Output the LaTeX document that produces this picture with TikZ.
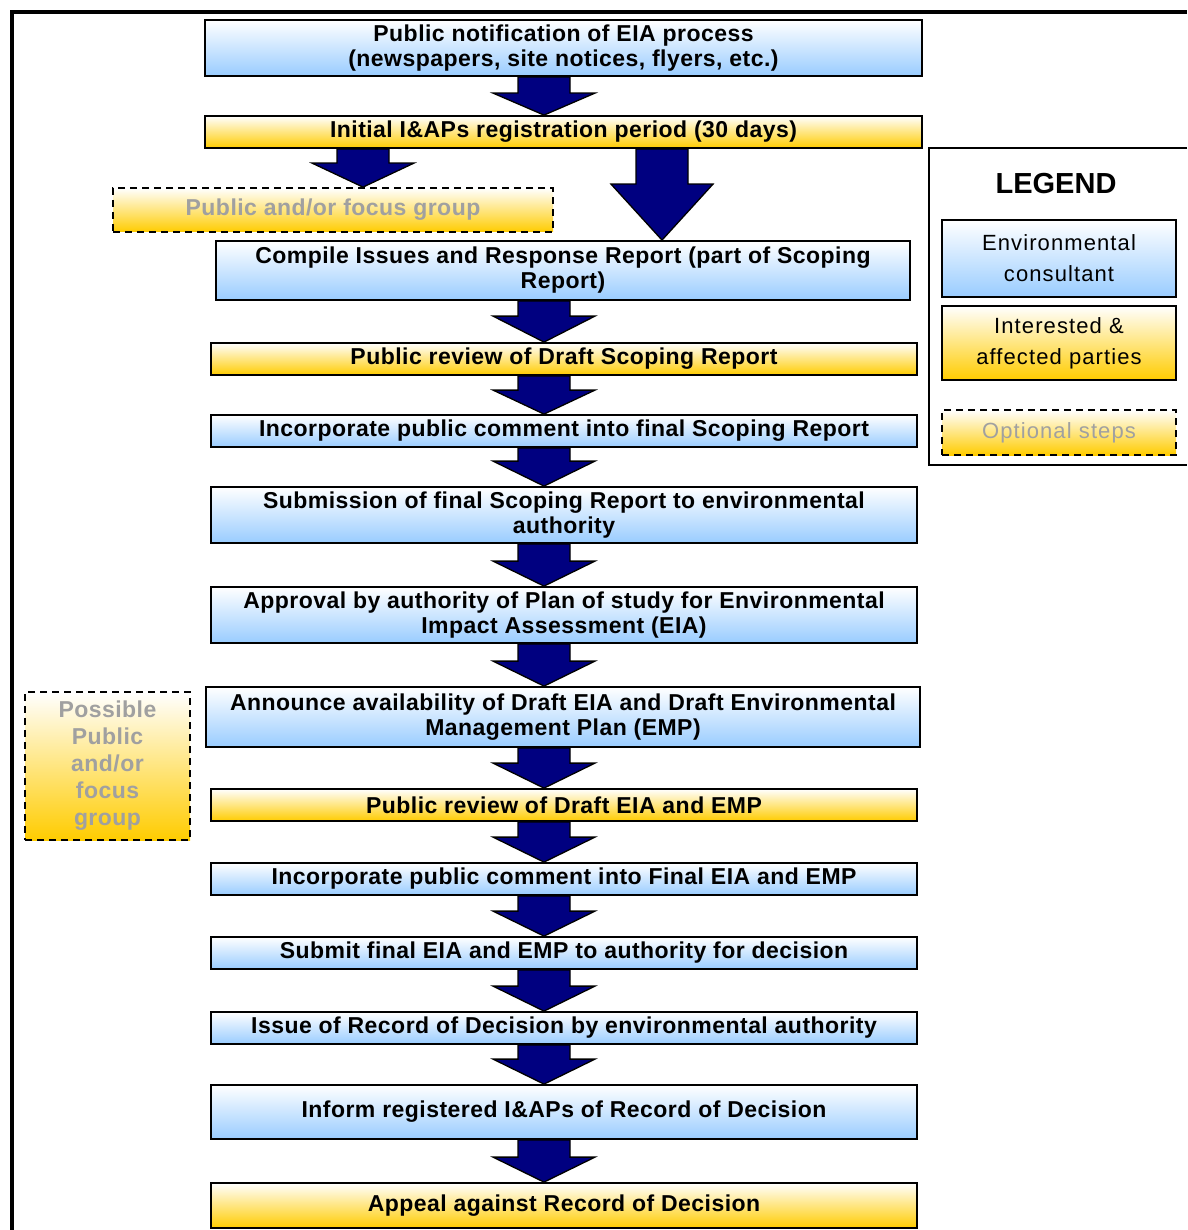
\documentclass[tikz,border=0pt]{standalone}
\usepackage{fontspec}
\setmainfont{Liberation Sans}
\newfontfamily\stepfont[LetterSpace=2]{Liberation Sans}
\newfontfamily\keyfont[LetterSpace=5]{Liberation Sans}
\usetikzlibrary{calc}
\definecolor{consultblue}{RGB}{153,204,255}
\definecolor{iapgold}{RGB}{255,204,0}
\definecolor{arrownavy}{RGB}{0,0,128}
\definecolor{optgray}{RGB}{160,160,160}
\newcommand{\StepArrow}[4]{%
  \draw[blockarrow] let \p1=(#1.south), \p2=(#2.north) in
    (#3pt-26pt,\y1) -- (#3pt+26pt,\y1) -- (#3pt+26pt,\y2+#4pt) -- (#3pt+51pt,\y2+#4pt)
    -- (#3pt,\y2) -- (#3pt-51pt,\y2+#4pt) -- (#3pt-26pt,\y2+#4pt) -- cycle;}

\begin{document}
\begin{tikzpicture}[x=1pt,y=-1pt]
\useasboundingbox (0,0) rectangle (1187,1230);
\tikzset{stepbase/.style ={draw=black, line width=1.8pt, inner sep=1pt, align=center,
  font=\stepfont\fontsize{23}{25}\selectfont\bfseries}}
\tikzset{consult/.style ={stepbase, top color=white, bottom color=consultblue}}
\tikzset{iap/.style ={stepbase, top color=white, bottom color=iapgold}}
\tikzset{optional/.style ={iap, dash pattern=on 7pt off 5pt, text=optgray}}
\tikzset{legendtext/.style ={font=\keyfont\fontsize{22}{31}\selectfont}}
\tikzset{blockarrow/.style ={draw=black, line width=1.3pt, fill=arrownavy, line join=miter}}
\draw[line width=3.5pt] (12,1230) -- (12,12) -- (1187,12);
\node[consult, minimum width=717, minimum height=56] (pubnote) at (563.5,48) {Public notification of EIA process\\(newspapers, site notices, flyers, etc.)};
\node[iap, minimum width=717, minimum height=32] (register) at (563.5,132) {Initial I\&APs registration period (30 days)};
\node[optional, minimum width=440, minimum height=44] (focusgrp) at (333,210) {Public and/or focus group};
\node[consult, minimum width=694, minimum height=59] (compile) at (563,270.5) {Compile Issues and Response Report (part of Scoping\\Report)};
\node[iap, minimum width=706, minimum height=32] (scopereview) at (564,359) {Public review of Draft Scoping Report};
\node[consult, minimum width=706, minimum height=32] (scopecomment) at (564,431) {Incorporate public comment into final Scoping Report};
\node[consult, minimum width=706, minimum height=56] (scopesubmit) at (564,515) {Submission of final Scoping Report to environmental\\authority};
\node[consult, minimum width=706, minimum height=56] (planapproval) at (564,615) {Approval by authority of Plan of study for Environmental\\Impact Assessment (EIA)};
\node[consult, minimum width=714, minimum height=60] (announce) at (563,717) {Announce availability of Draft EIA and Draft Environmental\\Management Plan (EMP)};
\node[iap, minimum width=706, minimum height=32] (eiareview) at (564,805) {Public review of Draft EIA and EMP};
\node[consult, minimum width=706, minimum height=32] (eiacomment) at (564,879) {Incorporate public comment into Final EIA and EMP};
\node[consult, minimum width=706, minimum height=32] (eiasubmit) at (564,953) {Submit final EIA and EMP to authority for decision};
\node[consult, minimum width=706, minimum height=32] (decision) at (564,1028) {Issue of Record of Decision by environmental authority};
\node[consult, minimum width=706, minimum height=54] (inform) at (564,1112) {Inform registered I\&APs of Record of Decision};
\node[iap, minimum width=706, minimum height=45] (appeal) at (564,1205.5) {Appeal against Record of Decision};
\node[optional, minimum width=165, minimum height=148, font=\stepfont\fontsize{23}{27}\selectfont\bfseries] (possiblegrp) at (107.5,766) {Possible\\Public\\and/or\\focus\\group};
\draw[line width=2pt] (1187,148) -- (929,148) -- (929,465) -- (1187,465);
\node[font=\fontsize{29}{32}\selectfont\bfseries] (legendtitle) at (1056,184) {LEGEND};
\node[consult, legendtext, minimum width=234, minimum height=77] (legconsult) at (1059,258.5) {Environmental\\consultant};
\node[iap, legendtext, minimum width=234, minimum height=74] (legiap) at (1059,343) {Interested \&\\affected parties};
\node[optional, legendtext, minimum width=234, minimum height=45] (legoptional) at (1059,432.5) {Optional steps};
\StepArrow{pubnote}{register}{544}{22}
\StepArrow{register}{focusgrp}{363}{24}
\StepArrow{register}{compile}{662}{56}
\StepArrow{compile}{scopereview}{544}{26}
\StepArrow{scopereview}{scopecomment}{544}{24}
\StepArrow{scopecomment}{scopesubmit}{544}{25}
\StepArrow{scopesubmit}{planapproval}{544}{25}
\StepArrow{planapproval}{announce}{544}{25}
\StepArrow{announce}{eiareview}{544}{25}
\StepArrow{eiareview}{eiacomment}{544}{25}
\StepArrow{eiacomment}{eiasubmit}{544}{25}
\StepArrow{eiasubmit}{decision}{544}{25}
\StepArrow{decision}{inform}{544}{25}
\StepArrow{inform}{appeal}{544}{25}
\end{tikzpicture}
\end{document}
